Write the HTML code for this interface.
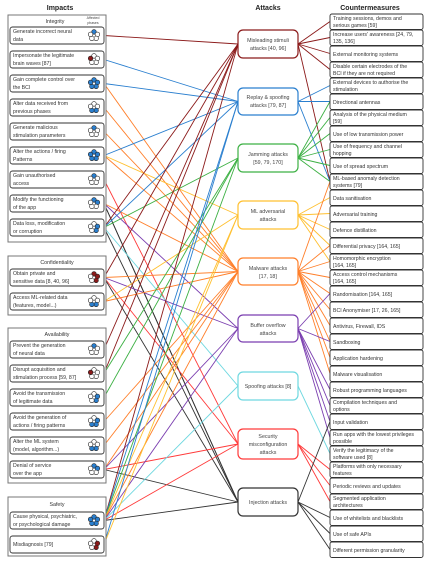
<!DOCTYPE html>
<html><head><meta charset="utf-8"><style>
html,body{margin:0;padding:0;background:#fff;}
svg{display:block;font-family:"Liberation Sans",sans-serif;}
.t{font-size:5.2px;fill:#333;}
.h{font-size:7px;font-weight:bold;fill:#222;text-anchor:middle;}
.g{font-size:5.3px;fill:#333;text-anchor:middle;}
.a{font-size:5.3px;fill:#444;text-anchor:middle;}
</style></head><body>
<svg id="s" width="431" height="564" viewBox="0 0 431 564" xmlns="http://www.w3.org/2000/svg">
<g id="lines"></g>
<text class="h" x="60" y="10">Impacts</text>
<text class="h" x="268" y="10">Attacks</text>
<text class="h" x="370" y="10">Countermeasures</text>
<g fill="#fff" stroke="#777" stroke-width="1">
<rect x="8" y="15" width="98" height="227"/>
<rect x="8" y="256" width="98" height="59"/>
<rect x="8" y="328" width="98" height="155"/>
<rect x="8" y="497" width="98" height="59"/>
</g>
<text class="g" x="55" y="23">Integrity</text>
<text x="93" y="19" style="font-size:3.5px;fill:#444;text-anchor:middle">Affected</text>
<text x="93" y="24" style="font-size:3.5px;fill:#444;text-anchor:middle">phases</text>
<text class="g" x="57" y="264">Confidentiality</text>
<text class="g" x="57" y="336">Availability</text>
<text class="g" x="57" y="506">Safety</text>
<g id="items" fill="#fff" stroke="#333" stroke-width="0.9"></g>
<g id="icons"></g>
<g class="t">
<text x="13" y="33">Generate incorrect neural</text><text x="13" y="41">data</text>
<text x="13" y="57">Impersonate the legitimate</text><text x="13" y="65">brain waves [87]</text>
<text x="13" y="81">Gain complete control over</text><text x="13" y="89">the BCI</text>
<text x="13" y="105">Alter data received from</text><text x="13" y="113">previous phases</text>
<text x="13" y="129">Generate malicious</text><text x="13" y="137">stimulation parameters</text>
<text x="13" y="153">Alter the actions / firing</text><text x="13" y="161">Patterns</text>
<text x="13" y="177">Gain unauthorised</text><text x="13" y="185">access</text>
<text x="13" y="201">Modify the functioning</text><text x="13" y="209">of the app</text>
<text x="13" y="225">Data loss, modification</text><text x="13" y="233">or corruption</text>
<text x="13" y="275">Obtain private and</text><text x="13" y="283">sensitive data [8, 40, 96]</text>
<text x="13" y="299">Access ML-related data</text><text x="13" y="307">(features, model...)</text>
<text x="13" y="347">Prevent the generation</text><text x="13" y="355">of neural data</text>
<text x="13" y="371">Disrupt acquisition and</text><text x="13" y="379">stimulation process [59, 87]</text>
<text x="13" y="395">Avoid the transmission</text><text x="13" y="403">of legitimate data</text>
<text x="13" y="419">Avoid the generation of</text><text x="13" y="427">actions / firing patterns</text>
<text x="13" y="443">Alter the ML system</text><text x="13" y="451">(model, algorithm...)</text>
<text x="13" y="467">Denial of service</text><text x="13" y="475">over the app</text>
<text x="13" y="518">Cause physical, psychiatric,</text><text x="13" y="526">or psychological damage</text>
<text x="13" y="546">Misdiagnosis [79]</text>
</g>
<g id="atk" fill="#fff" stroke-width="1.2"></g>
<g class="a">
<text x="268" y="42">Misleading stimuli</text><text x="268" y="50">attacks [40, 96]</text>
<text x="268" y="99">Replay &amp; spoofing</text><text x="268" y="107">attacks [79, 87]</text>
<text x="268" y="156">Jamming attacks</text><text x="268" y="164">[59, 79, 170]</text>
<text x="268" y="213">ML adversarial</text><text x="268" y="221">attacks</text>
<text x="268" y="270">Malware attacks</text><text x="268" y="278">[17, 18]</text>
<text x="268" y="327">Buffer overflow</text><text x="268" y="335">attacks</text>
<text x="268" y="388">Spoofing attacks [8]</text>
<text x="268" y="438">Security</text><text x="268" y="446">misconfiguration</text><text x="268" y="454">attacks</text>
<text x="268" y="504">Injection attacks</text>
</g>
<g id="cms" fill="#fff" stroke="#333" stroke-width="0.9"></g>
<g class="t">
<text x="333" y="20">Training sessions, demos and</text><text x="333" y="27">serious games [59]</text>
<text x="333" y="36">Increase users' awareness [24, 79,</text><text x="333" y="43">135, 136]</text>
<text x="333" y="56">External monitoring systems</text>
<text x="333" y="68">Disable certain electrodes of the</text><text x="333" y="75">BCI if they are not required</text>
<text x="333" y="84">External devices to authorise the</text><text x="333" y="91">stimulation</text>
<text x="333" y="104">Directional antennas</text>
<text x="333" y="116">Analysis of the physical medium</text><text x="333" y="123">[59]</text>
<text x="333" y="136">Use of low transmission power</text>
<text x="333" y="148">Use of frequency and channel</text><text x="333" y="155">hopping</text>
<text x="333" y="168">Use of spread spectrum</text>
<text x="333" y="180">ML-based anomaly detection</text><text x="333" y="187">systems [79]</text>
<text x="333" y="200">Data sanitisation</text>
<text x="333" y="216">Adversarial training</text>
<text x="333" y="232">Defence distillation</text>
<text x="333" y="248">Differential privacy [164, 165]</text>
<text x="333" y="260">Homomorphic encryption</text><text x="333" y="267">[164, 165]</text>
<text x="333" y="276">Access control mechanisms</text><text x="333" y="283">[164, 165]</text>
<text x="333" y="296">Randomisation [164, 165]</text>
<text x="333" y="312">BCI Anonymiser [17, 26, 165]</text>
<text x="333" y="328">Antivirus, Firewall, IDS</text>
<text x="333" y="344">Sandboxing</text>
<text x="333" y="360">Application hardening</text>
<text x="333" y="376">Malware visualisation</text>
<text x="333" y="392">Robust programming languages</text>
<text x="333" y="404">Compilation techniques and</text><text x="333" y="411">options</text>
<text x="333" y="424">Input validation</text>
<text x="333" y="436">Run apps with the lowest privileges</text><text x="333" y="443">possible</text>
<text x="333" y="452">Verify the legitimacy of the</text><text x="333" y="459">software used [8]</text>
<text x="333" y="468">Platforms with only necessary</text><text x="333" y="475">features</text>
<text x="333" y="488">Periodic reviews and updates</text>
<text x="333" y="500">Segmented application</text><text x="333" y="507">architectures</text>
<text x="333" y="520">Use of whitelists and blacklists</text>
<text x="333" y="536">Use of safe APIs</text>
<text x="333" y="552">Different permission granularity</text>
</g>
</svg>
<script>
var NS="http://www.w3.org/2000/svg";
function el(p,t,a){var e=document.createElementNS(NS,t);for(var k in a)e.setAttribute(k,a[k]);document.getElementById(p).appendChild(e);return e;}
var itemY=[27,51,75,99,123,147,171,195,219,269,293,341,365,389,413,437,461,512,536];
itemY.forEach(function(y){el("items","rect",{x:10,y:y,width:94,height:17,rx:2.5});});
var pats=["10000","00001","11111","00110","10000","11111","10000","11000","01100","11100","00110","10000","00001","01100","01110","00110","11000","11111","01100"];
itemY.forEach(function(y,i){var cx=94,cy=y+8.5;for(var k=0;k<5;k++){var a=(-90+72*k)*Math.PI/180;var f=pats[i][k]=="1"?((i==1||i==9||i==12||i==18)?"#8b1a1a":"#2a7fcf"):"#fff";el("icons","circle",{cx:cx+3.6*Math.cos(a),cy:cy+3.6*Math.sin(a),r:2.3,fill:f,stroke:"#222","stroke-width":0.6});}});
var C=["#8b1a1a","#2a7fcf","#3cb043","#ffc030","#ff7f2a","#7b3fb0","#6fd8e0","#ff3a3a","#333"];
var atkY=[[30,28],[88,27],[144,28],[201,28],[258,27],[315,27],[372,28],[429,30],[488,28]];
var cmY=[];for(var i=0;i<34;i++)cmY.push(14+i*16);
var L=document.getElementById("lines");
function line(x1,y1,x2,y2,c){el("lines","line",{x1:x1,y1:y1,x2:x2,y2:y2,stroke:c,"stroke-width":0.9});}
var right=[[0,1,2,3,10],[4,5,10],[5,6,7,8,9,10],[11,12,13,14,15],[10,14,15,16,17,18,19,20,21,22],[17,20,23,24,25,26],[27],[28,29,30],[25,31,32,33]];
right.forEach(function(list,a){var ay=atkY[a][0]+atkY[a][1]/2;list.forEach(function(c){line(298,ay,330,cmY[c]+7.5,C[a]);});});
var left=[[0],[1],[1,4],[4],[4],[1,3,4],[7],[4,5,8,8],[0,1,2,6,8],[0,4,5,7,8],[3,4],[0],[0,2],[2],[4],[4],[4,5,7,8],[0,1,2,3,4,5,6,7,8],[1,3]];
left.forEach(function(list,i){var iy=itemY[i]+8.5;list.forEach(function(a){var ay=atkY[a][0]+atkY[a][1]/2;line(104,iy,238,ay,C[a]);});});
atkY.forEach(function(b,a){el("atk","rect",{x:238,y:b[0],width:60,height:b[1],rx:5,stroke:C[a]});});
cmY.forEach(function(y){el("cms","rect",{x:330,y:y,width:93,height:15.5,rx:2});});
</script>
</body></html>
